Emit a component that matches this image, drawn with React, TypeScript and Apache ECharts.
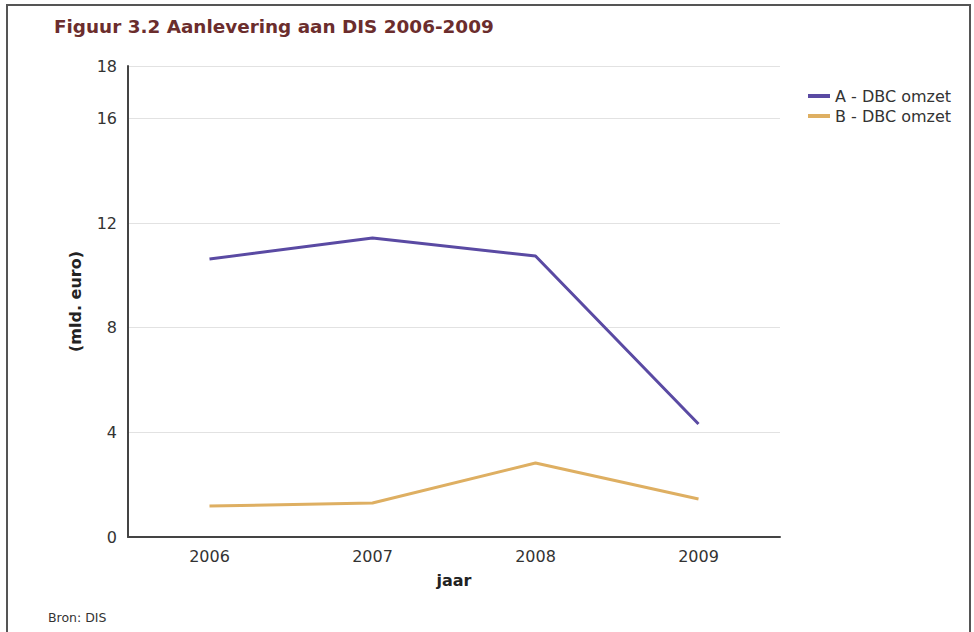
import React, { useEffect, useRef } from "react";
import * as echarts from "echarts";

const years = ["2006", "2007", "2008", "2009"];
const seriesA = [10.62, 11.43, 10.74, 4.32];
const seriesB = [1.18, 1.3, 2.83, 1.45];
const seriesNames = ["A - DBC omzet", "B - DBC omzet"];
const titleText = "Figuur 3.2 Aanlevering aan DIS 2006-2009";
const sourceText = "Bron: DIS";

export default function App() {
  const ref = useRef<HTMLDivElement>(null);
  useEffect(() => {
    document.body.style.margin = "0";
    const chart = echarts.init(ref.current!, null, { renderer: "svg" });
    const font = "DejaVu Sans, Verdana, sans-serif";
    chart.setOption({
      animation: false,
      backgroundColor: "#ffffff",
      graphic: [
        {
          type: "rect",
          shape: { x: 7, y: 5, width: 963, height: 640 },
          style: { fill: "none", stroke: "#555", lineWidth: 2 },
          silent: true,
        },
        {
          type: "text",
          left: 48,
          top: 611,
          style: { text: sourceText, font: `12.5px ${font}`, fill: "#333" },
        },
      ],
      title: {
        text: titleText,
        left: 49,
        top: 12,
        textStyle: { fontFamily: font, fontSize: 18.4, fontWeight: "bold", color: "#6b2d2d" },
      },
      legend: {
        orient: "vertical",
        left: 803,
        top: 83,
        itemWidth: 22,
        itemHeight: 4,
        itemGap: 4,
        icon: "rect",
        textStyle: { fontFamily: font, fontSize: 16, color: "#333" },
        data: seriesNames,
      },
      grid: { left: 128, right: 194, top: 66, bottom: 95, containLabel: false },
      xAxis: {
        type: "category",
        data: years,
        boundaryGap: true,
        name: "jaar",
        nameLocation: "middle",
        nameGap: 35,
        nameTextStyle: { fontFamily: font, fontSize: 16, fontWeight: "bold", color: "#222" },
        axisLine: { lineStyle: { color: "#444", width: 2 } },
        axisTick: { show: false },
        axisLabel: { fontFamily: font, fontSize: 16, color: "#333", margin: 11 },
      },
      yAxis: {
        type: "value",
        min: 0,
        max: 18,
        interval: 4,
        name: "(mld. euro)",
        nameLocation: "middle",
        nameGap: 45,
        nameTextStyle: { fontFamily: font, fontSize: 16, fontWeight: "bold", color: "#222" },
        axisLine: { show: true, lineStyle: { color: "#444", width: 2 } },
        axisTick: { show: false },
        axisLabel: { fontFamily: font, fontSize: 16, color: "#333", margin: 11 },
        splitLine: { lineStyle: { color: "#e2e2e2", width: 1 } },
      },
      series: [
        {
          name: seriesNames[0],
          type: "line",
          data: seriesA,
          symbol: "none",
          lineStyle: { color: "#5a4aa3", width: 3 },
          itemStyle: { color: "#5a4aa3" },
        },
        {
          name: seriesNames[1],
          type: "line",
          data: seriesB,
          symbol: "none",
          lineStyle: { color: "#deaf62", width: 3 },
          itemStyle: { color: "#deaf62" },
        },
      ],
    });
    return () => chart.dispose();
  }, []);
  return <div ref={ref} style={{ width: 974, height: 632 }} />;
}
